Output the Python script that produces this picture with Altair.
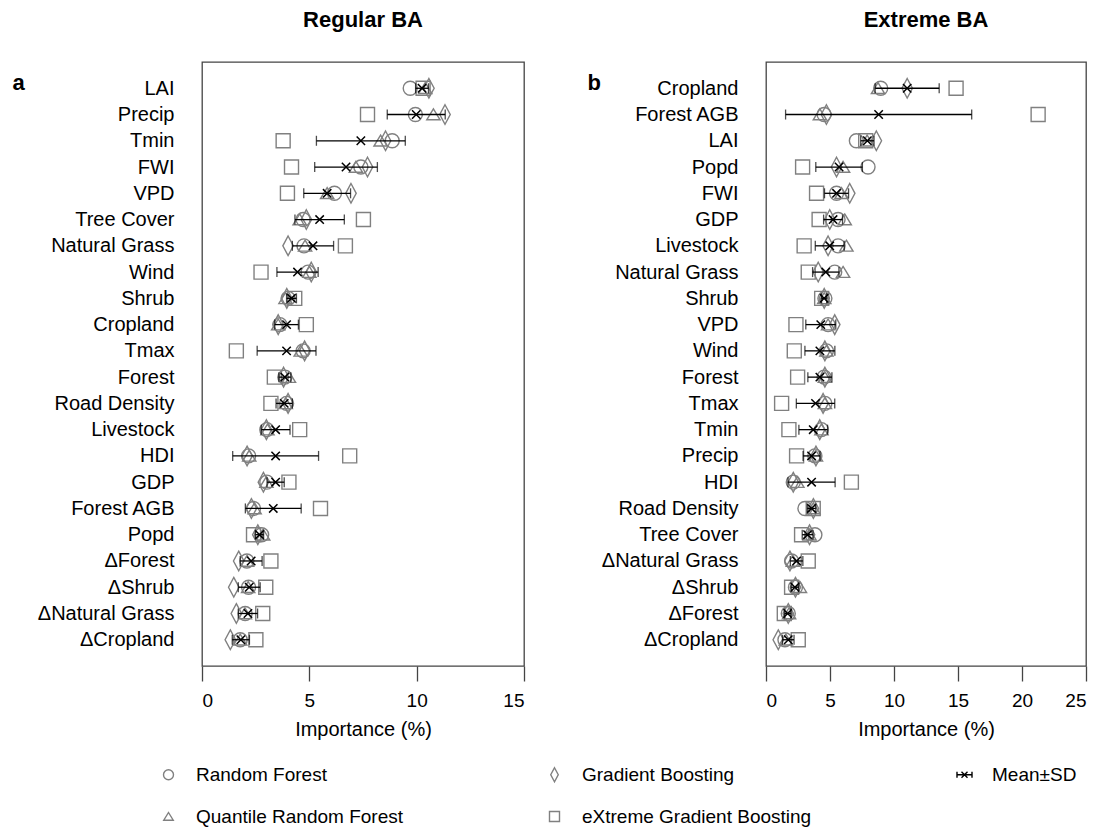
import altair as alt
import pandas as pd

FONT = "Liberation Sans"
GREY = "#808080"

# ---------------- Panel a : Regular BA ----------------
vars_a = ["LAI", "Precip", "Tmin", "FWI", "VPD", "Tree Cover", "Natural Grass", "Wind",
          "Shrub", "Cropland", "Tmax", "Forest", "Road Density", "Livestock", "HDI", "GDP",
          "Forest AGB", "Popd", "ΔForest", "ΔShrub", "ΔNatural Grass", "ΔCropland"]
rf_a = [9.70, 9.94, 8.86, 7.40, 6.17, 4.71, 4.75, 4.94, 4.01, 3.63, 4.71, 3.86, 3.94, 3.02,
        2.17, 3.02, 2.40, 2.78, 2.09, 2.17, 2.01, 1.78]
qrf_a = [10.40, 10.78, 8.32, 7.17, 5.83, 4.55, 4.80, 5.00, 3.89, 3.55, 4.60, 4.05, 3.90, 3.05,
         2.20, 3.00, 2.45, 2.85, 2.10, 2.15, 2.00, 1.78]
gb_a = [10.57, 11.32, 8.55, 7.71, 6.94, 4.86, 4.01, 5.09, 3.95, 3.55, 4.78, 3.80, 4.01, 3.00,
        2.10, 2.86, 2.30, 2.60, 1.71, 1.48, 1.60, 1.32]
xgb_a = [10.30, 7.71, 3.78, 4.17, 3.98, 7.52, 6.68, 2.75, 4.32, 4.86, 1.60, 3.37, 3.21, 4.55,
         6.88, 4.05, 5.52, 2.40, 3.21, 2.97, 2.83, 2.51]
mean_a = [10.25, 9.98, 7.40, 6.71, 5.83, 5.48, 5.17, 4.45, 4.17, 3.94, 3.94, 3.86, 3.83, 3.43,
          3.43, 3.43, 3.32, 2.68, 2.29, 2.20, 2.14, 1.81]
sd_a = [0.30, 1.35, 2.07, 1.46, 1.09, 1.15, 0.96, 0.96, 0.23, 0.55, 1.37, 0.28, 0.38, 0.67,
        2.00, 0.40, 1.30, 0.19, 0.51, 0.51, 0.45, 0.40]

# ---------------- Panel b : Extreme BA ----------------
vars_b = ["Cropland", "Forest AGB", "LAI", "Popd", "FWI", "GDP", "Livestock", "Natural Grass",
          "Shrub", "VPD", "Wind", "Forest", "Tmax", "Tmin", "Precip", "HDI", "Road Density",
          "Tree Cover", "ΔNatural Grass", "ΔShrub", "ΔForest", "ΔCropland"]
rf_b = [8.96, 4.54, 7.06, 7.97, 5.51, 5.63, 5.63, 5.37, 4.60, 4.85, 4.72, 4.54, 4.60, 4.33,
        3.82, 2.13, 3.04, 3.82, 2.00, 2.30, 1.74, 1.48]
qrf_b = [8.75, 4.21, 7.90, 6.02, 5.90, 6.15, 6.28, 6.02, 4.55, 4.85, 4.72, 4.60, 4.60, 4.33,
         3.90, 2.45, 3.70, 3.40, 2.10, 2.65, 1.80, 1.55]
gb_b = [11.03, 4.72, 8.62, 5.51, 6.54, 4.98, 4.85, 4.08, 4.55, 5.37, 4.60, 4.60, 4.46, 4.20,
        3.90, 2.13, 3.70, 3.40, 1.87, 2.30, 1.74, 0.96]
xgb_b = [14.85, 21.26, 7.79, 2.86, 3.95, 4.15, 2.98, 3.30, 4.35, 2.34, 2.21, 2.47, 1.22, 1.79,
         2.39, 6.67, 3.69, 2.78, 3.30, 2.00, 1.43, 2.52]
mean_b = [11.03, 8.80, 7.92, 5.71, 5.51, 5.24, 4.98, 4.67, 4.54, 4.28, 4.21, 4.21, 3.87, 3.69,
          3.56, 3.56, 3.56, 3.25, 2.39, 2.26, 1.69, 1.74]
sd_b = [2.50, 7.27, 0.52, 1.82, 0.94, 0.74, 1.13, 1.03, 0.20, 1.17, 1.17, 0.94, 1.50, 1.12,
        0.66, 1.84, 0.33, 0.42, 0.49, 0.30, 0.25, 0.45]

MODELS = ["Random Forest", "Quantile Random Forest", "Gradient Boosting",
          "eXtreme Gradient Boosting"]
LEGEND_ORDER = ["Random Forest", "Gradient Boosting", "Mean±SD",
                "Quantile Random Forest", "eXtreme Gradient Boosting"]

DIAMOND = "M0,-1.4L0.75,0L0,1.4L-0.75,0Z"
TRIANGLE = "M0,-0.8L0.95,0.75L-0.95,0.75Z"
XMARK = "M-0.6,-0.6L0.6,0.6M-0.6,0.6L0.6,-0.6"
MEANSD = ("M-1.5,-0.6L-1.5,0.6M-1.5,0L1.5,0M1.5,-0.6L1.5,0.6"
          "M-0.6,-0.6L0.6,0.6M-0.6,0.6L0.6,-0.6")
shape_range = ["circle", DIAMOND, MEANSD, TRIANGLE, "square"]
stroke_range = [GREY, GREY, "black", GREY, GREY]

legend = alt.Legend(title=None, orient="none", legendX=-43, legendY=703,
                    direction="horizontal", columns=3, symbolSize=100,
                    symbolStrokeWidth=1.4, labelFontSize=19, labelFont=FONT,
                    labelColor="black", labelOffset=18, columnPadding=142,
                    rowPadding=22, labelLimit=400)


def panel(vars_, rf, qrf, gb, xgb, mean, sd, title, letter, letter_dx, xmax, width):
    rows = []
    for m, vals in zip(MODELS, [rf, qrf, gb, xgb]):
        for v, val in zip(vars_, vals):
            rows.append({"var": v, "model": m, "value": val})
    dm = pd.DataFrame(rows)
    ds = pd.DataFrame({"var": vars_, "mean": mean, "sd": sd})
    ds["lo"] = ds["mean"] - ds["sd"]
    ds["hi"] = ds["mean"] + ds["sd"]

    y = alt.Y("var:N", sort=vars_,
              scale=alt.Scale(type="point", padding=1.05),
              axis=alt.Axis(title=letter, titleAngle=0, titleFontSize=22,
                            titleFontWeight="bold", titleX=letter_dx, titleY=27,
                            titleAlign="left", titleBaseline="alphabetic",
                            ticks=False, domain=False, labelPadding=28,
                            labelFontSize=20, labelColor="black", labelFont=FONT,
                            titleFont=FONT, titleColor="black", labelLimit=300))
    xscale = alt.Scale(domain=[0, xmax], nice=False, zero=False)
    xaxis = alt.Axis(values=list(range(0, xmax + 1, 5)), title="Importance (%)",
                     tickSize=15, tickColor="#444", tickWidth=1.3, domain=False,
                     grid=False, labelFontSize=19, labelFont=FONT, labelColor="black",
                     labelPadding=10, titleFontSize=20, titleFont=FONT,
                     titleFontWeight="normal", titleColor="black", titlePadding=9)

    pts = alt.Chart(dm).mark_point(filled=False, size=196, strokeWidth=1.4, opacity=1).encode(
        x=alt.X("value:Q", scale=xscale, axis=xaxis),
        y=y,
        shape=alt.Shape("model:N", scale=alt.Scale(domain=LEGEND_ORDER, range=shape_range),
                        legend=legend),
        stroke=alt.Stroke("model:N", scale=alt.Scale(domain=LEGEND_ORDER, range=stroke_range),
                          legend=legend),
    )
    rule = alt.Chart(ds).mark_rule(color="black", strokeWidth=1.3).encode(
        x=alt.X("lo:Q", scale=xscale, axis=xaxis), x2="hi:Q", y=y)
    cap_lo = alt.Chart(ds).mark_tick(color="black", size=10, thickness=1.3).encode(
        x=alt.X("lo:Q", scale=xscale, axis=xaxis), y=y)
    cap_hi = alt.Chart(ds).mark_tick(color="black", size=10, thickness=1.3).encode(
        x=alt.X("hi:Q", scale=xscale, axis=xaxis), y=y)
    mpt = alt.Chart(ds).mark_point(shape=XMARK, size=196, filled=False, stroke="black",
                                   strokeWidth=1.5, opacity=1).encode(
        x=alt.X("mean:Q", scale=xscale, axis=xaxis), y=y)

    return alt.layer(pts, rule, cap_lo, cap_hi, mpt).properties(
        width=width, height=604,
        title=alt.Title(title, fontSize=22, fontWeight="bold", font=FONT,
                        anchor="middle", frame="group", offset=30, color="black"))


pa = panel(vars_a, rf_a, qrf_a, gb_a, xgb_a, mean_a, sd_a, "Regular BA", "a", -190, 15, 322)
pb = panel(vars_b, rf_b, qrf_b, gb_b, xgb_b, mean_b, sd_b, "Extreme BA", "b", -179, 25, 320)

chart = alt.hconcat(pa, pb, spacing=242, bounds="flush").resolve_scale(
    shape="shared", stroke="shared"
).properties(
    padding={"left": 11, "top": 8, "right": 5, "bottom": 5},
    background="white",
).configure_view(stroke="#444", strokeWidth=1.3)

chart.save("out.html", embed_options={"renderer": "svg", "actions": False})
